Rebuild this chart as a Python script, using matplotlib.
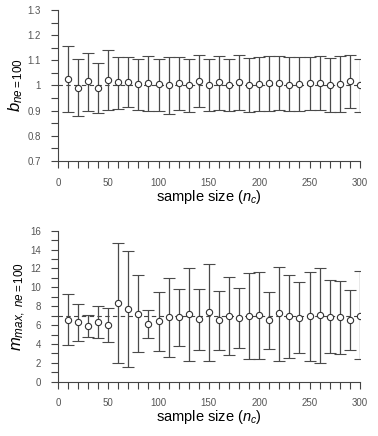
import matplotlib
matplotlib.use("Agg")
import matplotlib.pyplot as plt
from matplotlib.ticker import MultipleLocator, FuncFormatter

plt.rcParams['font.family'] = ['Liberation Sans', 'DejaVu Sans']
plt.rcParams['mathtext.fontset'] = 'custom'
plt.rcParams['mathtext.rm'] = 'Liberation Sans'
plt.rcParams['mathtext.it'] = 'Liberation Sans:italic'

sample_size = [10, 20, 30, 40, 50, 60, 70, 80, 90, 100, 110, 120, 130, 140, 150,
               160, 170, 180, 190, 200, 210, 220, 230, 240, 250, 260, 270, 280, 290, 300]

b_mean = [1.025, 0.991, 1.016, 0.988, 1.021, 1.012, 1.015, 1.007, 1.008, 1.004,
          1.000, 1.009, 1.000, 1.017, 1.001, 1.012, 1.002, 1.014, 1.002, 1.006,
          1.011, 1.010, 1.003, 1.006, 1.010, 1.008, 1.003, 1.007, 1.016, 1.003]
b_upper = [1.158, 1.104, 1.130, 1.090, 1.141, 1.115, 1.115, 1.106, 1.119, 1.105,
           1.113, 1.115, 1.105, 1.121, 1.105, 1.118, 1.105, 1.123, 1.108, 1.112,
           1.119, 1.117, 1.112, 1.112, 1.113, 1.117, 1.109, 1.117, 1.122, 1.104]
b_lower = [0.894, 0.877, 0.900, 0.892, 0.903, 0.907, 0.915, 0.904, 0.899, 0.900,
           0.887, 0.902, 0.896, 0.916, 0.898, 0.902, 0.900, 0.904, 0.895, 0.900,
           0.900, 0.904, 0.898, 0.900, 0.902, 0.902, 0.896, 0.896, 0.910, 0.896]

m_mean = [6.53, 6.29, 5.90, 6.36, 6.00, 8.37, 7.74, 7.21, 6.15, 6.39,
          6.85, 6.82, 7.14, 6.64, 7.36, 6.50, 6.92, 6.78, 6.99, 7.03,
          6.53, 7.24, 6.92, 6.78, 6.99, 7.03, 6.89, 6.85, 6.53, 6.99]
m_upper = [9.25, 8.19, 7.06, 8.05, 7.84, 14.66, 13.88, 11.34, 7.60, 9.47,
           10.99, 9.82, 12.01, 9.82, 12.47, 9.64, 11.06, 9.96, 11.55, 11.66,
           9.50, 12.15, 11.34, 10.53, 11.62, 12.05, 10.74, 10.67, 9.71, 11.69]
m_lower = [3.87, 4.34, 4.73, 4.66, 4.17, 2.03, 1.52, 3.11, 4.59, 3.25,
           2.60, 3.83, 2.17, 3.39, 2.24, 3.36, 2.79, 3.57, 2.40, 2.37,
           3.50, 2.23, 2.54, 3.00, 2.23, 1.94, 3.00, 2.93, 3.36, 2.37]

b_ref = 1.0
m_ref = 7.0

fig = plt.figure(figsize=(3.78, 4.36), dpi=100)
ax1 = fig.add_axes([0.153, 0.631, 0.799, 0.346])
ax2 = fig.add_axes([0.153, 0.1245, 0.799, 0.3465])

bar_col = '#4a4a4a'
tick_col = '#555555'


def style(ax, ylim, ymaj, ymin, ylabel):
    ax.set_xlim(0, 300)
    ax.set_ylim(*ylim)
    ax.spines['top'].set_visible(False)
    ax.spines['right'].set_visible(False)
    for s in ('left', 'bottom'):
        ax.spines[s].set_color('#444444')
        ax.spines[s].set_linewidth(0.8)
    ax.xaxis.set_major_locator(MultipleLocator(50))
    ax.xaxis.set_minor_locator(MultipleLocator(10))
    ax.yaxis.set_major_locator(MultipleLocator(ymaj))
    ax.yaxis.set_minor_locator(MultipleLocator(ymin))
    ax.yaxis.set_major_formatter(FuncFormatter(lambda v, p: '%g' % round(v, 2)))
    ax.tick_params(which='major', direction='out', length=5, width=0.8,
                   color='#444444', labelsize=7, labelcolor=tick_col, pad=7)
    ax.tick_params(which='minor', direction='out', length=5, width=0.8,
                   color='#444444')
    ax.set_xlabel(r'sample size ($n_c$)', fontsize=10.5, labelpad=0)
    ax.set_ylabel(ylabel, fontsize=12, labelpad=2)


def draw(ax, mean, lower, upper, ref):
    yerr = [[m - l for m, l in zip(mean, lower)], [u - m for m, u in zip(mean, upper)]]
    ax.axhline(ref, color='#444444', lw=0.8, ls=(0, (4, 3)), zorder=1)
    ax.errorbar(sample_size, mean, yerr=yerr, fmt='o', ms=4.5, mfc='white',
                mec='#333333', mew=0.8, ecolor=bar_col, elinewidth=0.9,
                capsize=4, capthick=0.9, zorder=3)


draw(ax1, b_mean, b_lower, b_upper, b_ref)
style(ax1, (0.7, 1.3), 0.1, 0.05, r'$b_{ne=100}$')

draw(ax2, m_mean, m_lower, m_upper, m_ref)
style(ax2, (0, 16), 2, 1, r'$m_{max,\ ne=100}$')

fig.savefig('out.png', dpi=100)
